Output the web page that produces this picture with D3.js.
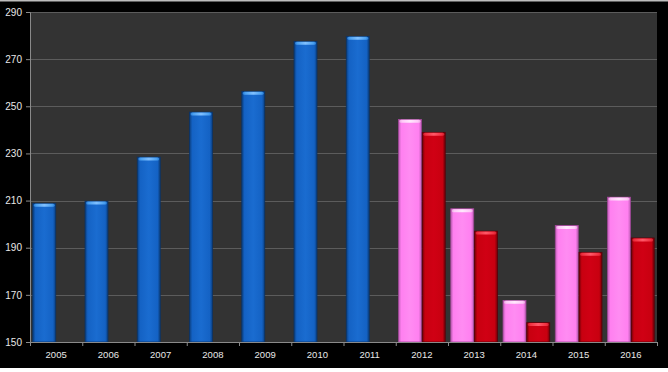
<!DOCTYPE html>
<html>
<head>
<meta charset="utf-8">
<script src="https://cdn.jsdelivr.net/npm/d3@7"></script>
<style>
body { margin: 0; background: #ffffff; }
svg { display: block; }
</style>
</head>
<body>
<div id="chart"></div>
<script>
// data
var years = ["2005","2006","2007","2008","2009","2010","2011","2012","2013","2014","2015","2016"]
var firstValues = [209, 209.9, 228.6, 247.7, 256.5, 277.7, 279.8, 244.6, 206.7, 167.8, 199.6, 211.6]
var secondValues = [null, null, null, null, null, null, null, 239.1, 197.2, 158.4, 188.2, 194.3]
var yTicks = [150, 170, 190, 210, 230, 250, 270, 290]

var screen = {width: 668, height: 372}
var margins = {top: 12, bottom: 30, left: 30, right: 11}

var svg = d3.select("#chart")
    .append("svg")
    .attr("width", screen.width)
    .attr("height", screen.height)

// black frame, white strip at the bottom
svg.append("rect").attr("width", screen.width).attr("height", 368).attr("fill", "#000")
svg.append("rect").attr("width", screen.width).attr("height", 1.5).attr("fill", "#bdbdbd")

var width = screen.width - margins.left - margins.right
var height = 342 - margins.top

var xScale = d3.scaleBand()
    .domain(years)
    .range([0, width])

var seriesScale = d3.scaleBand()
    .domain(["first", "second"])
    .range([0, xScale.bandwidth()])
    .paddingOuter(0.1)

var yScale = d3.scaleLinear()
    .domain([150, 290])
    .range([height, 0])

var defs = svg.append("defs")
var makeGradient = function(id, edge, mid, light)
{
    var g = defs.append("linearGradient").attr("id", id).attr("x1", 0).attr("x2", 1).attr("y1", 0).attr("y2", 0)
    g.append("stop").attr("offset", "0%").attr("stop-color", edge)
    g.append("stop").attr("offset", "12%").attr("stop-color", mid)
    g.append("stop").attr("offset", "50%").attr("stop-color", light)
    g.append("stop").attr("offset", "88%").attr("stop-color", mid)
    g.append("stop").attr("offset", "100%").attr("stop-color", edge)
}
makeGradient("blue", "#0b3f80", "#1462c4", "#1a6cd0")
makeGradient("blueTop", "#2a7fd8", "#4aa0f0", "#80c0ff")
makeGradient("pink", "#c060b8", "#ff80f0", "#ff8cf2")
makeGradient("pinkTop", "#e8b0e0", "#ffc8f8", "#ffe8fc")
makeGradient("red", "#700008", "#c80010", "#d00014")
makeGradient("redTop", "#d02030", "#f03040", "#ff5868")

var outline = {blue: "#0a3468", pink: "#a04898", red: "#5a0008"}

var plot = svg.append("g")
    .attr("transform", "translate(" + margins.left + "," + margins.top + ")")

plot.append("rect")
    .attr("width", width)
    .attr("height", height)
    .attr("fill", "#333333")

// gridlines
plot.selectAll("line.grid")
    .data(yTicks)
    .enter()
    .append("line")
    .attr("class", "grid")
    .attr("x1", 0)
    .attr("x2", width)
    .attr("y1", function(d) { return Math.round(yScale(d)) + 0.5 })
    .attr("y2", function(d) { return Math.round(yScale(d)) + 0.5 })
    .attr("stroke", "#5c5c5c")
    .attr("stroke-width", 1.2)

// flatten into one list of bars
var bars = []
years.forEach(function(y, i)
{
    var later = secondValues[i] != null
    bars.push({year: y, series: "first", value: firstValues[i], fill: later ? "pink" : "blue"})
    if (later) bars.push({year: y, series: "second", value: secondValues[i], fill: "red"})
})

var barG = plot.selectAll("g.bar")
    .data(bars)
    .enter()
    .append("g")
    .attr("class", "bar")
    .attr("transform", function(d) { return "translate(" + (xScale(d.year) + seriesScale(d.series)) + ",0)" })

barG.append("rect")
    .attr("x", 0.4)
    .attr("y", function(d) { return yScale(d.value) + 0.4 })
    .attr("width", seriesScale.bandwidth() - 0.8)
    .attr("height", function(d) { return height - yScale(d.value) - 0.4 })
    .attr("fill", function(d) { return "url(#" + d.fill + ")" })
    .attr("stroke", function(d) { return outline[d.fill] })
    .attr("stroke-width", 0.8)

barG.append("rect")
    .attr("x", 1.5)
    .attr("y", function(d) { return yScale(d.value) + 0.8 })
    .attr("width", seriesScale.bandwidth() - 3)
    .attr("height", 3)
    .attr("rx", 1.5)
    .attr("fill", function(d) { return "url(#" + d.fill + "Top)" })

// axes
var yAxis = d3.axisLeft(yScale).tickValues(yTicks).tickSize(4).tickPadding(4)
var yG = plot.append("g").call(yAxis)
yG.select(".domain").attr("stroke", "#8a8a8a")
yG.selectAll(".tick line").attr("stroke", "#8a8a8a")
yG.selectAll("text").attr("fill", "#e8e8e8").style("font-family", "Liberation Sans, Arial, sans-serif").style("font-size", "10px")

var xAxis = d3.axisBottom(xScale).tickSize(0).tickPadding(9)
var xG = plot.append("g").attr("transform", "translate(0," + height + ")").call(xAxis)
xG.select(".domain").attr("stroke", "#8a8a8a")
xG.selectAll("text").attr("fill", "#e8e8e8").style("font-family", "Liberation Sans, Arial, sans-serif").style("font-size", "9.5px")

// tick marks on the band edges
xG.selectAll("line.edge")
    .data(years.concat(["end"]))
    .enter()
    .append("line")
    .attr("class", "edge")
    .attr("x1", function(d, i) { return i * xScale.step() + 0.5 })
    .attr("x2", function(d, i) { return i * xScale.step() + 0.5 })
    .attr("y1", 0)
    .attr("y2", 4)
    .attr("stroke", "#8a8a8a")
</script>
</body>
</html>
